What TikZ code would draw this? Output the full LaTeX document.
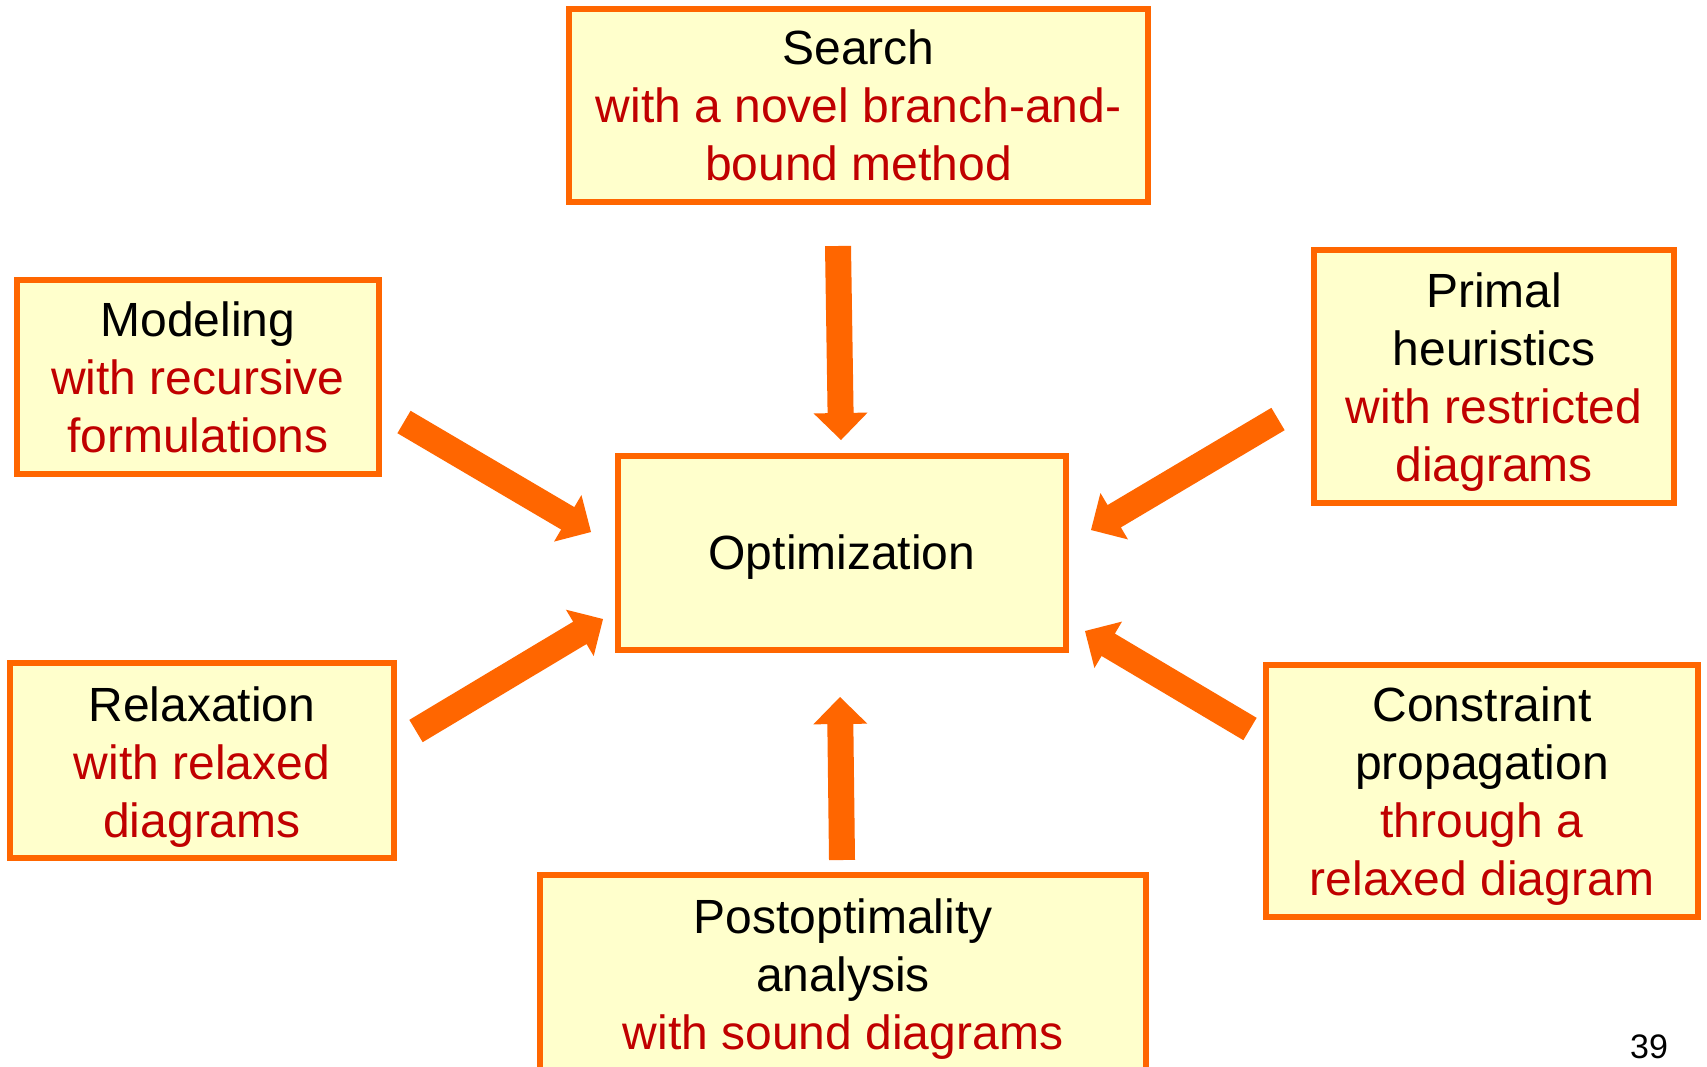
\documentclass[tikz,border=0pt]{standalone}
\usepackage{fontspec}
\setmainfont{Liberation Sans}
\usetikzlibrary{calc}
\definecolor{borderorange}{HTML}{FF6600}
\definecolor{boxfill}{HTML}{FFFFCC}
\definecolor{darkred}{HTML}{C00000}
\newcommand\hl[1]{\textcolor{darkred}{#1}}
\newcommand\bigtext{\fontsize{48}{58}\selectfont}
\newcommand\fatarrow[2]{%
  \fill[fatarr]
    ($(#1)!13pt!90:(#2)$) --
    ($($(#2)!27pt!(#1)$)!13pt!-90:(#1)$) --
    ($($(#2)!27pt!(#1)$)!27pt!-90:(#1)$) --
    (#2) --
    ($($(#2)!27pt!(#1)$)!27pt!90:(#1)$) --
    ($($(#2)!27pt!(#1)$)!13pt!90:(#1)$) --
    ($(#1)!13pt!-90:(#2)$) -- cycle;}
\tikzset{
  box/.style={draw=borderorange, line width=5.5pt, fill=boxfill, inner sep=0pt},
  boxtext/.style={inner sep=0pt, align=center, font=\bigtext, text=black},
  fatarr/.style={fill=borderorange},
}
\begin{document}
\begin{tikzpicture}[x=1pt,y=-1pt]
\useasboundingbox (0,0) rectangle (1707,1066);
\clip (0,0) rectangle (1707,1066);
\fill[white] (0,0) rectangle (1707,1066);

\node[box, minimum width=579pt, minimum height=193pt] (search) at (858.5,105.5) {};
\node[box, minimum width=362pt, minimum height=194pt] (modeling) at (198,377) {};
\node[box, minimum width=360pt, minimum height=253pt] (primal) at (1494,376.5) {};
\node[box, minimum width=448pt, minimum height=194pt] (opt) at (842,553) {};
\node[box, minimum width=384pt, minimum height=195pt] (relax) at (202,760.5) {};
\node[box, minimum width=432pt, minimum height=252pt] (constr) at (1482,791) {};
\node[box, minimum width=606pt, minimum height=200pt] (post) at (843,975) {};

\node[boxtext] (searchT) at (search.center)
  {Search\\\hl{with a novel branch-and-}\\\hl{bound method}};
\node[boxtext] (modelingT) at (modeling.center)
  {Modeling\\\hl{with recursive}\\\hl{formulations}};
\node[boxtext] (primalT) at ([yshift=-5.5pt]primal.center)
  {Primal\\heuristics\\\hl{with restricted}\\\hl{diagrams}};
\node[boxtext] (optT) at ([yshift=-4.5pt]opt.center)
  {Optimization};
\node[boxtext] (relaxT) at ([yshift=-6.5pt]relax.center)
  {Relaxation\\\hl{with relaxed}\\\hl{diagrams}};
\node[boxtext] (constrT) at ([yshift=-5.5pt]constr.center)
  {Constraint\\propagation\\\hl{through a}\\\hl{relaxed diagram}};
\node[boxtext] (postT) at ([yshift=-4.5pt]post.center)
  {Postoptimality\\analysis\\\hl{with sound diagrams}};
\node[font=\fontsize{34}{40}\selectfont, inner sep=0pt] (page) at (1649,1047) {39};

\coordinate (topS) at (838,246);   \coordinate (topT) at (841,440);
\coordinate (botS) at (842,860);   \coordinate (botT) at (840,697);
\coordinate (modS) at (404,422);   \coordinate (modT) at (591,532);
\coordinate (relS) at (416,731);   \coordinate (relT) at (603,619);
\coordinate (priS) at (1278,419);  \coordinate (priT) at (1091,530);
\coordinate (conS) at (1250,729);  \coordinate (conT) at (1085,631);

\fatarrow{topS}{topT}
\fatarrow{botS}{botT}
\fatarrow{modS}{modT}
\fatarrow{relS}{relT}
\fatarrow{priS}{priT}
\fatarrow{conS}{conT}
\end{tikzpicture}
\end{document}
